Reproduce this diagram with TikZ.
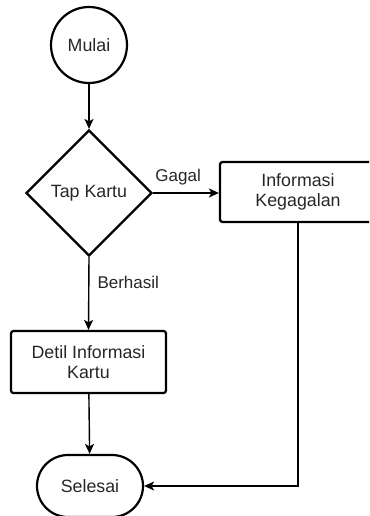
\documentclass[tikz,border=0pt]{standalone}
\usepackage{fontspec}
\setmainfont{Liberation Sans}
\usetikzlibrary{shapes.geometric,shapes.misc,arrows.meta}
\begin{document}
\begin{tikzpicture}[x=1pt,y=-1pt,
  every node/.style={font=\fontsize{17.8}{20.5}\selectfont, text=black!85, inner sep=0pt, align=center},
  shapebox/.style={draw, line width=2.2pt},
  startend/.style={shapebox, circle, minimum size=76pt},
  decision/.style={shapebox, diamond, minimum width=126pt, minimum height=126pt},
  process/.style={shapebox, rectangle, rounded corners=2.5pt},
  terminal/.style={shapebox, rounded rectangle, minimum width=106pt, minimum height=62pt},
  flow/.style={line width=1.4pt, -{Stealth[length=10pt,width=9pt,inset=2.5pt]}},
  lbl/.style={font=\fontsize{17}{20}\selectfont}
]
\useasboundingbox (0,0) rectangle (369,516);
\begin{scope}
\clip (0,0) rectangle (369,516);

\node[startend] (mulai) at (89,45) {Mulai};
\node[decision] (tap) at (89,193) {Tap Kartu};
\node[process, minimum width=156pt, minimum height=60pt] (gagal) at (298,192) {Informasi\\Kegagalan};
\node[process, minimum width=155pt, minimum height=62pt] (detil) at (88.5,362) {Detil Informasi\\Kartu};
\node[terminal] (selesai) at (90,486) {Selesai};
\coordinate (corner) at (gagal.south |- selesai.east);

\draw[flow] (mulai) -- (tap);
\draw[flow] (tap.east) -- (gagal.west |- tap.east)
  node[lbl, pos=0.38, above=7pt] {Gagal};
\draw[flow] (tap.south) -- (detil.north)
  node[lbl, pos=0.35, right=8pt] {Berhasil};
\draw[flow] (detil) -- (selesai);
\draw[flow] (gagal.south) -- (corner) -- (selesai.east);
\end{scope}
\end{tikzpicture}
\end{document}
